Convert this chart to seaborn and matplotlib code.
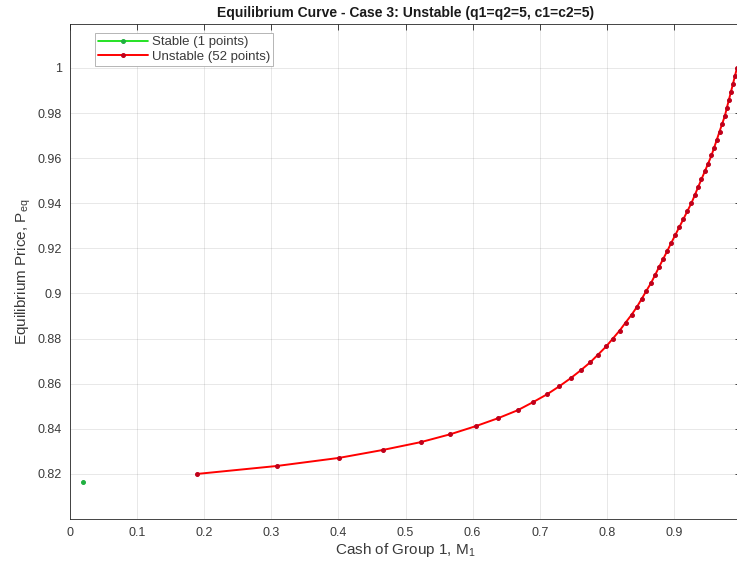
import matplotlib
matplotlib.use("Agg")
import matplotlib.pyplot as plt
import seaborn as sns
import pandas as pd

# Equilibrium points, split by stability
stable_m1 = [0.020]
stable_p = [0.8165]

unstable_m1 = [0.190, 0.308, 0.401, 0.466, 0.523, 0.567, 0.605, 0.638, 0.667, 0.690,
               0.711, 0.729, 0.746, 0.761, 0.775, 0.787, 0.799, 0.809, 0.819, 0.828,
               0.837, 0.845, 0.852, 0.859, 0.866, 0.872, 0.878, 0.884, 0.890, 0.896,
               0.902, 0.908, 0.914, 0.920, 0.926, 0.931, 0.936, 0.941, 0.946, 0.951,
               0.956, 0.960, 0.964, 0.968, 0.972, 0.976, 0.979, 0.982, 0.985, 0.988,
               0.991, 0.994]
unstable_p = [0.8200, 0.8235, 0.8271, 0.8306, 0.8341, 0.8376, 0.8412, 0.8447, 0.8482, 0.8518,
              0.8553, 0.8588, 0.8624, 0.8659, 0.8694, 0.8729, 0.8765, 0.8800, 0.8835, 0.8871,
              0.8906, 0.8941, 0.8976, 0.9012, 0.9047, 0.9082, 0.9118, 0.9153, 0.9188, 0.9224,
              0.9259, 0.9294, 0.9329, 0.9365, 0.9400, 0.9435, 0.9471, 0.9506, 0.9541, 0.9576,
              0.9612, 0.9647, 0.9682, 0.9718, 0.9753, 0.9788, 0.9824, 0.9859, 0.9894, 0.9929,
              0.9965, 1.0000]

x_ticks = [0, 0.1, 0.2, 0.3, 0.4, 0.5, 0.6, 0.7, 0.8, 0.9]
x_tick_labels = ["0", "0.1", "0.2", "0.3", "0.4", "0.5", "0.6", "0.7", "0.8", "0.9"]
y_ticks = [0.82, 0.84, 0.86, 0.88, 0.90, 0.92, 0.94, 0.96, 0.98, 1.00]
y_tick_labels = ["0.82", "0.84", "0.86", "0.88", "0.9", "0.92", "0.94", "0.96", "0.98", "1"]

sns.set_theme(style="white")
plt.rcParams["font.family"] = ["Liberation Sans", "DejaVu Sans"]
plt.rcParams["mathtext.fontset"] = "custom"
plt.rcParams["mathtext.rm"] = "Liberation Sans"
plt.rcParams["mathtext.it"] = "Liberation Sans"

axis_color = "#262626"
label_color = "#3a3a3a"

fig = plt.figure(figsize=(7.37, 5.61), dpi=100)
ax = fig.add_axes([70 / 737, 42 / 561, 671 / 737, 495 / 561])

df_s = pd.DataFrame({"M1": stable_m1, "P": stable_p})
df_u = pd.DataFrame({"M1": unstable_m1, "P": unstable_p})

sns.lineplot(data=df_s, x="M1", y="P", ax=ax, color="#00dd00", linewidth=1.2,
             marker="o", markersize=2.8, markerfacecolor="#20b040",
             markeredgecolor="#20b040", label="Stable (1 points)")
sns.lineplot(data=df_u, x="M1", y="P", ax=ax, color="#ff0000", linewidth=1.4,
             marker="o", markersize=2.8, markerfacecolor="#c0001a",
             markeredgecolor="#c0001a", label="Unstable (52 points)")

ax.set_xlim(0, 1.0)
ax.set_ylim(0.80, 1.0195)
ax.set_xticks(x_ticks)
ax.set_xticklabels(x_tick_labels)
ax.set_yticks(y_ticks)
ax.set_yticklabels(y_tick_labels)

ax.grid(True, color=axis_color, alpha=0.12, linewidth=0.6)
ax.tick_params(axis="both", direction="in", length=4, width=0.6, colors=axis_color,
               labelsize=9, top=True, right=True, pad=6)
for lbl in ax.get_xticklabels() + ax.get_yticklabels():
    lbl.set_color(label_color)
for s in ax.spines.values():
    s.set_color(axis_color)
    s.set_linewidth(0.6)

ax.set_xlabel("Cash of Group 1, M$_1$", fontsize=11, color=label_color, labelpad=1)
ax.set_ylabel("Equilibrium Price, P$_{eq}$", fontsize=11, color=label_color, labelpad=3)
ax.set_title("Equilibrium Curve - Case 3: Unstable (q1=q2=5, c1=c2=5)",
             fontsize=10, fontweight="bold", color="#1a1a1a", pad=5)

leg = ax.legend(loc="upper left", bbox_to_anchor=(0.037, 0.982), fontsize=9.5,
                frameon=True, fancybox=False, framealpha=1, edgecolor="#aaaaaa",
                handlelength=3.8, handletextpad=0.25, borderpad=0.25,
                labelspacing=0.15, borderaxespad=0)
leg.get_frame().set_linewidth(0.6)
for t in leg.get_texts():
    t.set_color(label_color)

fig.savefig("out.png", dpi=100)
